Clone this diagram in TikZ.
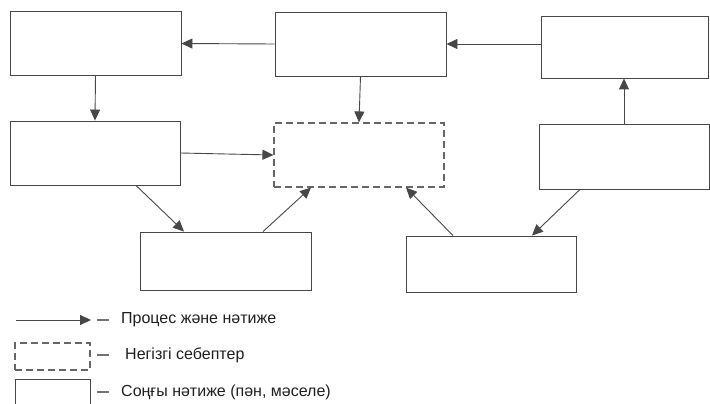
\documentclass[tikz,border=0pt]{standalone}
\usepackage{fontspec}
\setmainfont{Liberation Sans}
\usetikzlibrary{arrows.meta,calc}
\tikzset{
  box/.style={draw=black!72, line width=0.9pt, rectangle, inner sep=0pt},
  cause/.style={box, draw=black!60, line width=1.15pt, dash pattern=on 7pt off 4pt},
  arr/.style={draw=black!72, line width=0.9pt, -{Triangle[length=11pt,width=10pt]}},
  legtext/.style={anchor=west, inner sep=0pt, font=\fontsize{16}{19}\selectfont, text=black!88},
  legdash/.style={draw=black!55, line width=1.1pt}
}
\begin{document}
\begin{tikzpicture}[x=1pt,y=-1pt]
\useasboundingbox (0,0) rectangle (710,404);
% main boxes
\node[box, minimum width=171pt, minimum height=64pt] (A) at (95.5,43.5) {};
\node[box, minimum width=171pt, minimum height=64pt] (B) at (360.5,44) {};
\node[box, minimum width=167pt, minimum height=62pt] (C) at (624.5,47) {};
\node[box, minimum width=170pt, minimum height=64pt] (D) at (95,153) {};
\node[cause, minimum width=170pt, minimum height=64pt] (E) at (359,155) {};
\node[box, minimum width=170pt, minimum height=65pt] (F) at (624,156.5) {};
\node[box, minimum width=171pt, minimum height=58pt] (G) at (225.5,261) {};
\node[box, minimum width=170pt, minimum height=56pt] (H) at (491,264) {};
% connectors
\draw[arr] (C.west |- B.east) -- (B.east);
\draw[arr] (B.west) -- (A.east);
\draw[arr] (A.south) -- (D.north);
\draw[arr] (B.south) -- (E.north);
\draw[arr] (D.east) -- (E.west);
\draw[arr] (F.north) -- (F.north |- C.south);
\draw[arr] ([xshift=41pt]D.south) -- ([xshift=-41.5pt]G.north);
\draw[arr] ([xshift=37.5pt]G.north) -- ([xshift=-48pt]E.south);
\draw[arr] ([xshift=-38pt]H.north) -- ([xshift=47pt]E.south);
\draw[arr] ([xshift=-44pt]F.south) -- ([xshift=41pt]H.north);
% legend
\coordinate (l1a) at (16,320);
\coordinate (l1b) at (91,320);
\draw[arr] (l1a) -- (l1b);
\node[cause, minimum width=75pt, minimum height=27pt] (L2) at (52.5,356.5) {};
\node[box, minimum width=75pt, minimum height=32pt] (L3) at (52.5,395) {};
\coordinate (d1a) at (97,320); \coordinate (d1b) at (109,320);
\coordinate (d2a) at (97,355); \coordinate (d2b) at (109,355);
\coordinate (d3a) at (97,392); \coordinate (d3b) at (109,392);
\draw[legdash] (d1a) -- (d1b);
\draw[legdash] (d2a) -- (d2b);
\draw[legdash] (d3a) -- (d3b);
\node[legtext] (t1) at (121,320) {Процес және нәтиже};
\node[legtext] (t2) at (125,355) {Негізгі себептер};
\node[legtext] (t3) at (121,392) {Соңғы нәтиже (пән, мәселе)};
\end{tikzpicture}
\end{document}
